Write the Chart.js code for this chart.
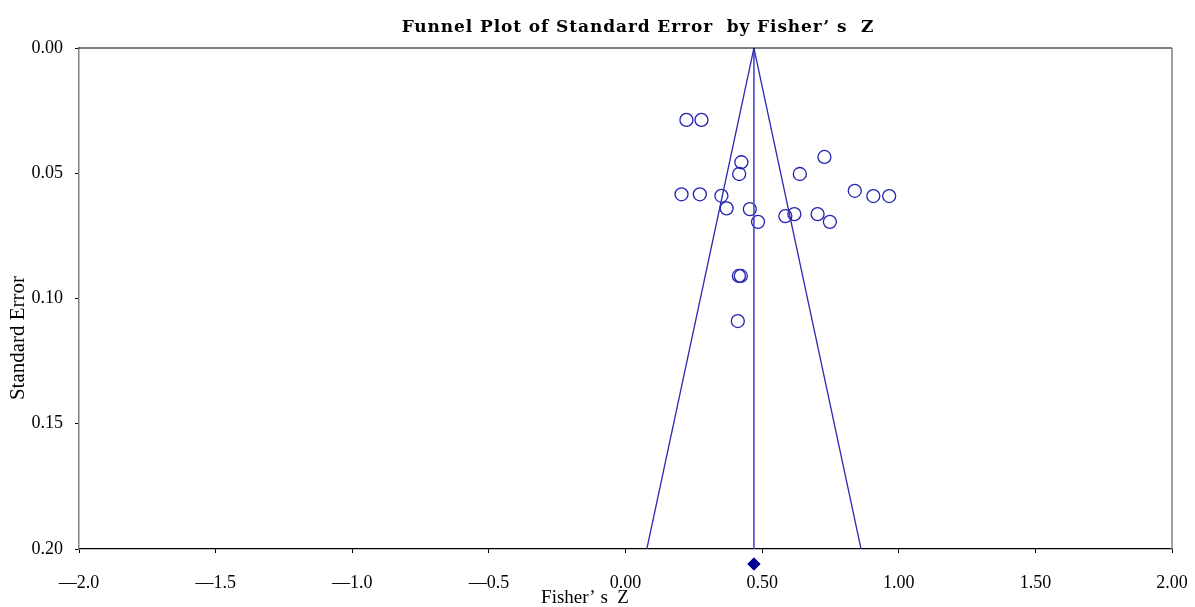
<!DOCTYPE html>
<html>
<head>
<meta charset="utf-8">
<script src="https://cdn.jsdelivr.net/npm/chart.js@4"></script>
<style>
  body { margin: 0; background: #fff; }
  canvas { display: block; }
</style>
</head>
<body>
<canvas id="funnelChart" width="1195" height="607"></canvas>
<script>
// Study points
const fisherZ = [0.223, 0.278, 0.424, 0.728, 0.416, 0.638, 0.205, 0.272, 0.351, 0.370, 0.455,
                 0.485, 0.585, 0.618, 0.703, 0.748, 0.839, 0.907, 0.965, 0.415, 0.422, 0.411];
const stdErr = [0.0287, 0.0287, 0.0456, 0.0435, 0.0503, 0.0503, 0.0584, 0.0584, 0.0590, 0.0640, 0.0643,
                0.0694, 0.0671, 0.0663, 0.0663, 0.0694, 0.0570, 0.0591, 0.0591, 0.0910, 0.0910, 0.1090];

// Summary diamond (drawn just under the axis)
const summaryZ = [0.47];
const summarySE = [0.206];

// Funnel and mean line
const funnelZ = [0.078, 0.47, 0.862];
const funnelSE = [0.2, 0, 0.2];
const meanZ = [0.47, 0.47];
const meanSE = [0, 0.2];

// Tick labels
const xTickLabels = ['\u20142.0', '\u20141.5', '\u20141.0', '\u20140.5', '0.00', '0.50', '1.00', '1.50', '2.00'];
const yTickLabels = ['0.00', '0.05', '0.10', '0.15', '0.20'];

const FONT = '"Liberation Serif", "Times New Roman", serif';

const toPoints = (xs, ys) => xs.map((x, i) => ({ x: x, y: ys[i] }));

// Frame, summary diamond and titles
const framePlugin = {
    id: 'frame',
    afterDraw(chart) {
        const { ctx, chartArea: a, scales } = chart;
        ctx.save();
        ctx.lineWidth = 1.2;
        ctx.strokeStyle = '#000';
        ctx.beginPath();
        ctx.moveTo(a.left, a.top);
        ctx.lineTo(a.right, a.top);
        ctx.stroke();
        ctx.strokeStyle = '#808080';
        ctx.lineWidth = 1.5;
        ctx.beginPath();
        ctx.moveTo(a.right, a.top);
        ctx.lineTo(a.right, a.bottom);
        ctx.stroke();

        // the diamond sits below the plot area, so Chart.js would skip it
        ctx.fillStyle = '#000096';
        summaryZ.forEach((z, i) => {
            Chart.helpers.drawPoint(ctx, { pointStyle: 'rectRot', radius: 6.5, rotation: 0, borderWidth: 0 },
                scales.x.getPixelForValue(z), scales.y.getPixelForValue(summarySE[i]));
            ctx.fill();
        });

        ctx.fillStyle = '#000';
        ctx.textAlign = 'center';
        ctx.textBaseline = 'middle';
        ctx.font = 'bold 17px "DejaVu Serif", serif';
        ctx.letterSpacing = '0.9px';
        ctx.fillText('Funnel Plot of Standard Error  by Fisher\u2019 s  Z', 638, 28);
        ctx.letterSpacing = '0px';

        ctx.font = '19px ' + FONT;
        ctx.fillText('Fisher\u2019 s  Z', 585, 598);

        ctx.translate(18, 338);
        ctx.rotate(-Math.PI / 2);
        ctx.font = '21px ' + FONT;
        ctx.fillText('Standard Error', 0, 0);
        ctx.restore();
    }
};

new Chart(document.getElementById('funnelChart'), {
    type: 'scatter',
    data: {
        datasets: [
            {
                data: toPoints(funnelZ, funnelSE),
                showLine: true,
                borderColor: '#2b2bb5',
                borderWidth: 1.3,
                pointRadius: 0
            },
            {
                data: toPoints(meanZ, meanSE),
                showLine: true,
                borderColor: '#4a4ac8',
                borderWidth: 1.6,
                pointRadius: 0
            },
            {
                data: toPoints(fisherZ, stdErr),
                pointStyle: 'circle',
                pointRadius: 6.5,
                borderColor: '#2323b0',
                borderWidth: 1.3,
                backgroundColor: 'rgba(0,0,0,0)'
            }
        ]
    },
    options: {
        responsive: false,
        animation: false,
        layout: { padding: { top: 48, right: 23, left: 0, bottom: 0 } },
        plugins: {
            legend: { display: false },
            tooltip: { enabled: false }
        },
        scales: {
            x: {
                type: 'linear',
                min: -2,
                max: 2,
                afterFit: scale => {
                    scale.height = 58;
                    scale.paddingLeft = 0;
                    scale.paddingRight = 0;
                },
                border: { color: '#000', width: 1.2 },
                grid: { drawOnChartArea: false, tickLength: 4, color: '#000' },
                ticks: {
                    stepSize: 0.5,
                    padding: 19,
                    color: '#000',
                    maxRotation: 0,
                    font: { family: FONT, size: 18 },
                    callback: value => xTickLabels[Math.round((value + 2) / 0.5)]
                }
            },
            y: {
                type: 'linear',
                reverse: true,
                min: 0,
                max: 0.2,
                afterFit: scale => { scale.width = 79; },
                border: { color: '#808080', width: 1.5 },
                grid: { drawOnChartArea: false, tickLength: 4, color: '#000' },
                ticks: {
                    stepSize: 0.05,
                    padding: 12,
                    color: '#000',
                    font: { family: FONT, size: 18 },
                    callback: value => yTickLabels[Math.round(value / 0.05)]
                }
            }
        }
    },
    plugins: [framePlugin]
});
</script>
</body>
</html>
